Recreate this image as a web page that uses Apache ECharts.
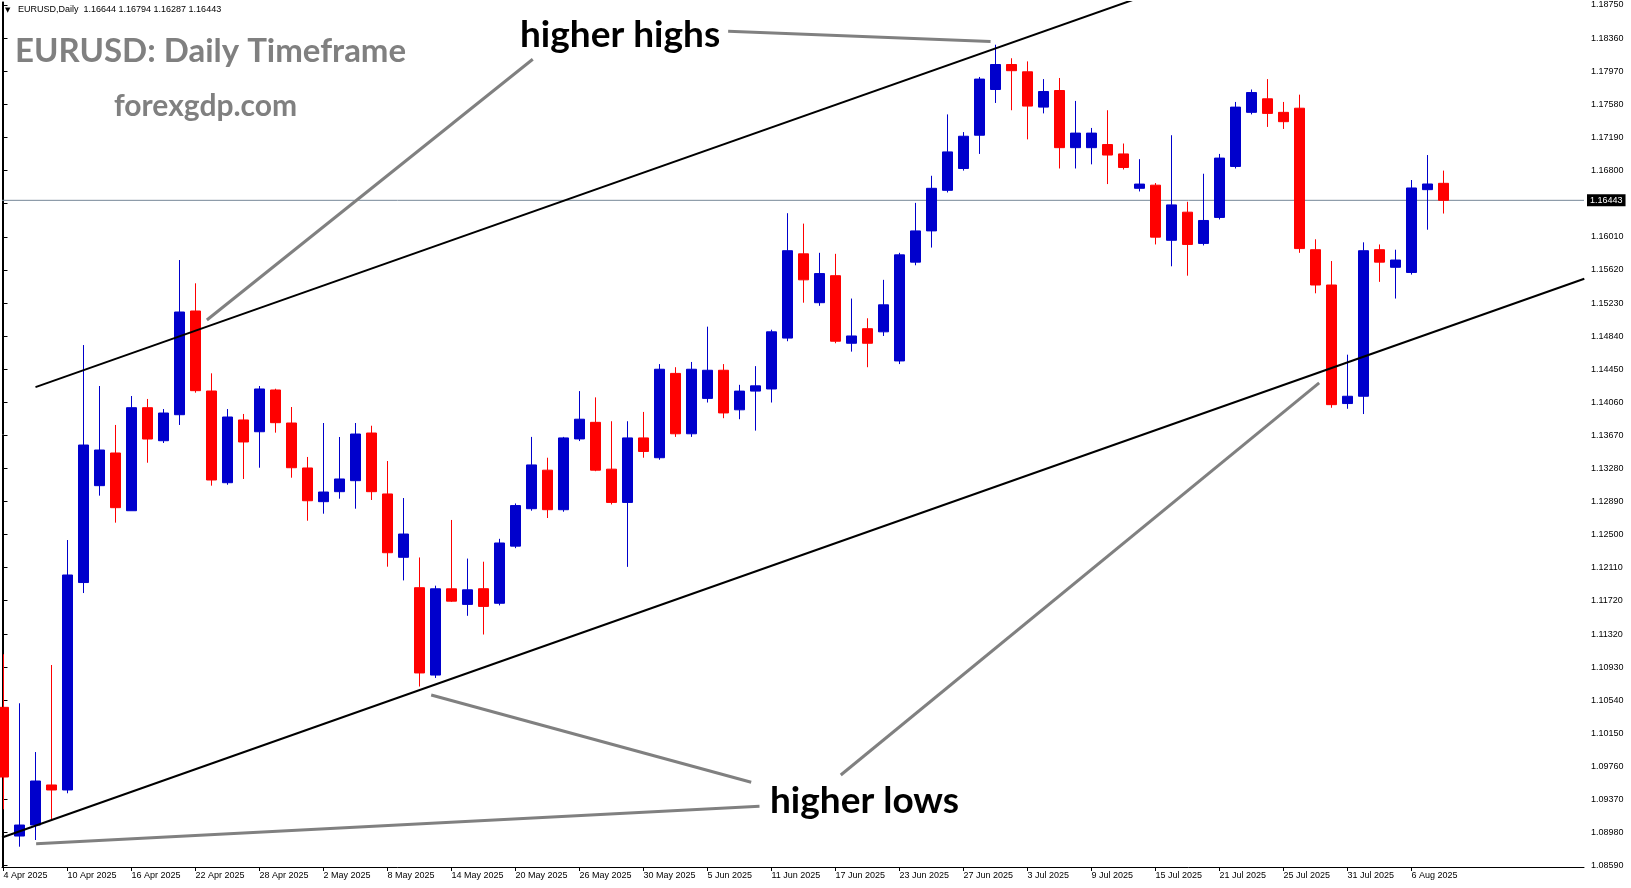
<!DOCTYPE html>
<html>
<head>
<meta charset="utf-8">
<script src="https://cdn.jsdelivr.net/npm/echarts@6/dist/echarts.min.js"></script>
<style>
html,body{margin:0;padding:0;background:#fff;}
#c{width:1631px;height:888px;}
</style>
</head>
<body>
<div id="c"></div>
<script>
// ---- data ----
const dateLabels = ['4 Apr 2025','10 Apr 2025','16 Apr 2025','22 Apr 2025','28 Apr 2025','2 May 2025','8 May 2025','14 May 2025','20 May 2025','26 May 2025','30 May 2025','5 Jun 2025','11 Jun 2025','17 Jun 2025','23 Jun 2025','27 Jun 2025','3 Jul 2025','9 Jul 2025','15 Jul 2025','21 Jul 2025','25 Jul 2025','31 Jul 2025','6 Aug 2025'];
const priceTickLabels = ['1.18750','1.18360','1.17970','1.17580','1.17190','1.16800','1.16410','1.16010','1.15620','1.15230','1.14840','1.14450','1.14060','1.13670','1.13280','1.12890','1.12500','1.12110','1.11720','1.11320','1.10930','1.10540','1.10150','1.09760','1.09370','1.08980','1.08590'];

const opens = [1.10455,1.08935,1.09065,1.09538,1.09479,1.11929,1.13073,1.13459,1.12777,1.13994,
1.13604,1.13911,1.15136,1.14191,1.13108,1.13849,1.13710,1.14203,1.13813,1.13282,
1.12884,1.13002,1.13132,1.13695,1.12975,1.12227,1.11868,1.10836,1.11855,1.11671,
1.11856,1.11684,1.12359,1.12801,1.13256,1.12789,1.13625,1.13821,1.13268,1.12875,
1.13637,1.13403,1.14399,1.13686,1.14104,1.14436,1.13969,1.14190,1.14215,1.14816,
1.15811,1.15234,1.15553,1.14755,1.14927,1.14890,1.14546,1.15713,1.16082,1.16561,
1.16819,1.17212,1.17752,1.18047,1.17961,1.17544,1.17740,1.17065,1.17065,1.17102,
1.16991,1.16585,1.16622,1.15971,1.16303,1.15934,1.16241,1.16843,1.17482,1.17642,
1.17482,1.17531,1.15860,1.15443,1.14043,1.14129,1.15860,1.15652,1.15591,1.16569,
1.16644];
const closes = [1.09632,1.09065,1.09585,1.09479,1.12018,1.13553,1.13494,1.12813,1.13994,1.13624,
1.13931,1.15124,1.14195,1.13140,1.13884,1.13589,1.14215,1.13817,1.13285,1.12895,
1.12998,1.13152,1.13683,1.13002,1.12281,1.12502,1.10861,1.11855,1.11709,1.11843,
1.11647,1.12396,1.12838,1.13318,1.12789,1.13637,1.13858,1.13256,1.12875,1.13637,
1.13477,1.14448,1.13686,1.14448,1.14436,1.13932,1.14190,1.14252,1.14890,1.15848,
1.15504,1.15578,1.14779,1.14841,1.14755,1.15209,1.15799,1.16082,1.16585,1.17015,
1.17200,1.17875,1.18047,1.17974,1.17556,1.17728,1.17065,1.17237,1.17237,1.16978,
1.16831,1.16635,1.16008,1.16389,1.15922,1.16205,1.16942,1.17544,1.17716,1.17470,
1.17372,1.15873,1.15443,1.14030,1.14129,1.15848,1.15713,1.15738,1.16589,1.16636,
1.16443];
const lows = [1.09251,1.08809,1.08888,1.09133,1.09440,1.11805,1.12955,1.12636,1.12777,1.13344,
1.13577,1.13790,1.14171,1.13073,1.13084,1.13152,1.13285,1.13699,1.13167,1.12659,
1.12742,1.12919,1.12801,1.12904,1.12116,1.11954,1.10701,1.10802,1.11700,1.11536,
1.11315,1.11659,1.12335,1.12777,1.12691,1.12765,1.13600,1.13244,1.12851,1.12114,
1.13403,1.13379,1.13649,1.13649,1.14055,1.13870,1.13858,1.13723,1.14055,1.14779,
1.15234,1.15197,1.14755,1.14656,1.14472,1.14841,1.14509,1.15676,1.15885,1.16536,
1.16794,1.16991,1.17593,1.17507,1.17163,1.17470,1.16819,1.16819,1.16868,1.16635,
1.16807,1.16548,1.15922,1.15664,1.15553,1.15910,1.16217,1.16819,1.17458,1.17310,
1.17286,1.15823,1.15345,1.13993,1.13981,1.13919,1.15480,1.15283,1.15566,1.16096,
1.16287];
const highs = [1.11082,1.10503,1.09927,1.10955,1.12431,1.14734,1.14250,1.13790,1.14132,1.14097,
1.13978,1.15738,1.15463,1.14400,1.13978,1.13920,1.14250,1.14218,1.14002,1.13412,
1.13813,1.13648,1.13813,1.13781,1.13364,1.12927,1.12225,1.11892,1.12668,1.12212,
1.12175,1.12445,1.12863,1.13649,1.13403,1.13649,1.14190,1.14116,1.13834,1.13834,
1.13944,1.14509,1.14472,1.14534,1.14951,1.14509,1.14264,1.14485,1.14915,1.16291,
1.16168,1.15823,1.15811,1.15283,1.15050,1.15504,1.15823,1.16413,1.16733,1.17458,
1.17249,1.17900,1.18281,1.18121,1.18084,1.17875,1.17888,1.17617,1.17298,1.17507,
1.17114,1.16929,1.16647,1.17212,1.16426,1.16757,1.16991,1.17605,1.17752,1.17875,
1.17605,1.17691,1.15983,1.15726,1.14620,1.15947,1.15922,1.15860,1.16683,1.16978,
1.16794];

// channel lines and pointer annotations, as [candle index, price]
const upperChannel = [[2.0, 1.14237],[72.0, 1.18904]];
const lowerChannel = [[-0.09, 1.08917],[98.8, 1.15517]];
const pointerHighs1 = [[45.29, 1.18441],[61.69, 1.18318]];
const pointerHighs2 = [[33.08, 1.18109],[12.71, 1.15030]];
const pointerLows1 = [[26.73, 1.10601],[46.73, 1.09571]];
const pointerLows2 = [[52.33, 1.09656],[82.23, 1.14288]];
const pointerLows3 = [[2.04, 1.08844],[47.25, 1.09287]];

// ---- build ----
const candles = opens.map((o, i) => [i, o, closes[i], lows[i], highs[i]]);
const lastClose = closes[closes.length - 1];
const xTickValues = dateLabels.map((d, i) => i * 4);
const yTickValues = priceTickLabels.map(s => parseFloat(s));

const X_MIN = -0.09375, X_MAX = 98.78125;
const Y_MIN = 1.085693, Y_MAX = 1.187854;
const axisFont = {fontFamily: 'Liberation Sans', fontSize: 9, color: '#000'};

function trend(data, color, width) {
  return {
    type: 'line', data: data, symbol: 'none', silent: true, clip: true, z: 5,
    lineStyle: {color: color, width: width}, animation: false
  };
}

const chart = echarts.init(document.getElementById('c'), null, {renderer: 'canvas'});
chart.setOption({
  animation: false,
  backgroundColor: '#ffffff',
  grid: {left: 2, top: 2, width: 1582, height: 865},
  xAxis: {
    type: 'value', min: X_MIN, max: X_MAX,
    splitLine: {show: false},
    axisLine: {show: true, onZero: false, lineStyle: {color: '#000', width: 1}},
    axisTick: {show: true, length: 4, customValues: xTickValues, lineStyle: {color: '#000'}},
    axisLabel: Object.assign({show: true, customValues: xTickValues, align: 'left', margin: 4,
      formatter: v => dateLabels[Math.round(v / 4)] || ''}, axisFont)
  },
  yAxis: [{
    type: 'value', position: 'right', min: Y_MIN, max: Y_MAX, scale: true,
    splitLine: {show: false},
    axisLine: {show: true, lineStyle: {color: '#000', width: 1}},
    axisTick: {show: true, length: 4, customValues: yTickValues, lineStyle: {color: '#000'}},
    axisLabel: Object.assign({show: true, customValues: yTickValues, margin: 7,
      formatter: v => v.toFixed(5)}, axisFont)
  }, {
    type: 'value', position: 'left', min: Y_MIN, max: Y_MAX, scale: true,
    splitLine: {show: false},
    axisLine: {show: true, lineStyle: {color: '#000', width: 1}},
    axisTick: {show: false}, axisLabel: {show: false}
  }],
  series: [
    {
      type: 'line', name: 'bid', z: 1, silent: true, symbol: 'none', clip: false,
      data: [[X_MIN, lastClose], [X_MAX, lastClose]],
      lineStyle: {color: '#778899', width: 1},
      endLabel: {show: true, distance: 3, formatter: () => lastClose.toFixed(5),
        backgroundColor: '#000', color: '#fff', fontFamily: 'Liberation Sans', fontSize: 9,
        padding: [2, 3, 1, 3]}
    },
    {
      type: 'candlestick', data: candles, encode: {x: 0, y: [1, 2, 3, 4]},
      barWidth: 10, z: 2, silent: true,
      itemStyle: {color: '#0000CC', color0: '#FF0000', borderColor: '#0000CC', borderColor0: '#FF0000', borderWidth: 1}
    },
    trend(upperChannel, '#000', 2),
    trend(lowerChannel, '#000', 2),
    trend(pointerHighs1, '#808080', 3),
    trend(pointerHighs2, '#808080', 3),
    trend(pointerLows1, '#808080', 3),
    trend(pointerLows2, '#808080', 3),
    trend(pointerLows3, '#808080', 3)
  ],
  graphic: [
    {type: 'text', x: 5, y: 10, z: 10, style: {text: '\u25BC', fill: '#000', font: '7px "DejaVu Sans"', verticalAlign: 'middle'}},
    {type: 'text', x: 18, y: 10, z: 10, style: {text: 'EURUSD,Daily  1.16644 1.16794 1.16287 1.16443', fill: '#000', font: '9px "Liberation Sans"', verticalAlign: 'middle'}},
    {type: 'text', x: 15, y: 51, z: 10, style: {text: 'EURUSD: Daily Timeframe', fill: '#808080', font: 'bold 33px Lato', verticalAlign: 'middle'}},
    {type: 'text', x: 114, y: 106, z: 10, style: {text: 'forexgdp.com', fill: '#808080', font: 'bold 30px Lato', verticalAlign: 'middle'}},
    {type: 'text', x: 520, y: 35, z: 10, style: {text: 'higher highs', fill: '#000', font: 'bold 37px Lato', verticalAlign: 'middle'}},
    {type: 'text', x: 770, y: 801, z: 10, style: {text: 'higher lows', fill: '#000', font: 'bold 37px Lato', verticalAlign: 'middle'}}
  ]
});
</script>
</body>
</html>
